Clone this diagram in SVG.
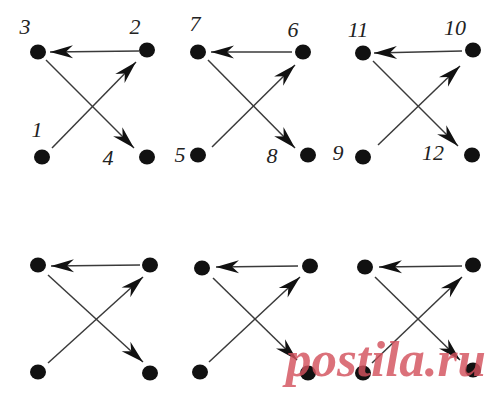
<svg xmlns="http://www.w3.org/2000/svg" width="500" height="402" viewBox="0 0 500 402">
<style>
.n{fill:#111}
.e{stroke:#3a3a3a;stroke-width:1.5;fill:none;marker-end:url(#ah)}
.l{font-family:"Liberation Serif",serif;font-style:italic;font-size:22px;fill:#222;text-anchor:middle}
.wm{font-family:"Liberation Serif",serif;font-style:italic;font-weight:bold;font-size:51px;fill:#d4525e;opacity:0.82}
</style>
<defs>
<marker id="ah" markerUnits="userSpaceOnUse" viewBox="-24 -8 26 16" refX="0" refY="0" markerWidth="26" markerHeight="16" orient="auto">
<path d="M0,0 L-23,-6.5 L-16,0 L-23,6.5 Z" fill="#111"/>
</marker>
</defs>
<rect width="500" height="402" fill="#fff"/>
<g id="connectors">
<line class="e" x1="139" y1="51" x2="50" y2="52"/>
<line class="e" x1="52" y1="148" x2="136" y2="62"/>
<line class="e" x1="46" y1="60" x2="134" y2="148"/>
<line class="e" x1="292" y1="52" x2="211" y2="52"/>
<line class="e" x1="212" y1="147" x2="295" y2="65"/>
<line class="e" x1="208" y1="60" x2="295" y2="148"/>
<line class="e" x1="462" y1="51" x2="374" y2="53"/>
<line class="e" x1="378" y1="145" x2="460" y2="66"/>
<line class="e" x1="373" y1="61" x2="458" y2="146"/>
<line class="e" x1="140" y1="265" x2="51" y2="266"/>
<line class="e" x1="48" y1="363" x2="143" y2="277"/>
<line class="e" x1="48" y1="275" x2="143" y2="362"/>
<line class="e" x1="298" y1="266" x2="216" y2="267"/>
<line class="e" x1="209" y1="362" x2="300" y2="277"/>
<line class="e" x1="213" y1="278" x2="297" y2="360"/>
<line class="e" x1="462" y1="266" x2="379" y2="267"/>
<line class="e" x1="372" y1="363" x2="462" y2="277"/>
<line class="e" x1="375" y1="277" x2="460" y2="360"/>
</g>
<g id="n1"><ellipse class="n" cx="42" cy="157" rx="8" ry="7.5"/><text class="l" x="37" y="137">1</text></g>
<g id="n2"><ellipse class="n" cx="147" cy="50" rx="8" ry="7.5"/><text class="l" x="135" y="34">2</text></g>
<g id="n3"><ellipse class="n" cx="38" cy="52" rx="8" ry="7.5"/><text class="l" x="25" y="34">3</text></g>
<g id="n4"><ellipse class="n" cx="147" cy="157" rx="8" ry="7.5"/><text class="l" x="108" y="165">4</text></g>
<g id="n5"><ellipse class="n" cx="198" cy="155" rx="8" ry="7.5"/><text class="l" x="180" y="162">5</text></g>
<g id="n6"><ellipse class="n" cx="303" cy="52" rx="8" ry="7.5"/><text class="l" x="293" y="37">6</text></g>
<g id="n7"><ellipse class="n" cx="198" cy="52" rx="8" ry="7.5"/><text class="l" x="195" y="31">7</text></g>
<g id="n8"><ellipse class="n" cx="308" cy="155" rx="8" ry="7.5"/><text class="l" x="272" y="163">8</text></g>
<g id="n9"><ellipse class="n" cx="363" cy="157" rx="8" ry="7.5"/><text class="l" x="338" y="160">9</text></g>
<g id="n10"><ellipse class="n" cx="473" cy="50" rx="8" ry="7.5"/><text class="l" x="455" y="35">10</text></g>
<g id="n11"><ellipse class="n" cx="363" cy="53" rx="8" ry="7.5"/><text class="l" x="358" y="37">11</text></g>
<g id="n12"><ellipse class="n" cx="472" cy="155" rx="8" ry="7.5"/><text class="l" x="433" y="160">12</text></g>
<g id="b1"><ellipse class="n" cx="38" cy="372" rx="8" ry="7.5"/></g>
<g id="b2"><ellipse class="n" cx="150" cy="265" rx="8" ry="7.5"/></g>
<g id="b3"><ellipse class="n" cx="38" cy="265" rx="8" ry="7.5"/></g>
<g id="b4"><ellipse class="n" cx="150" cy="373" rx="8" ry="7.5"/></g>
<g id="b5"><ellipse class="n" cx="200" cy="372" rx="8" ry="7.5"/></g>
<g id="b6"><ellipse class="n" cx="310" cy="266" rx="8" ry="7.5"/></g>
<g id="b7"><ellipse class="n" cx="202" cy="268" rx="8" ry="7.5"/></g>
<g id="b8"><ellipse class="n" cx="308" cy="373" rx="8" ry="7.5"/></g>
<g id="b9"><ellipse class="n" cx="363" cy="373" rx="8" ry="7.5"/></g>
<g id="b10"><ellipse class="n" cx="473" cy="265" rx="8" ry="7.5"/></g>
<g id="b11"><ellipse class="n" cx="365" cy="267" rx="8" ry="7.5"/></g>
<g id="b12"><ellipse class="n" cx="473" cy="370" rx="8" ry="7.5"/></g>
<text class="wm" x="286" y="376">postila.ru</text>
</svg>
